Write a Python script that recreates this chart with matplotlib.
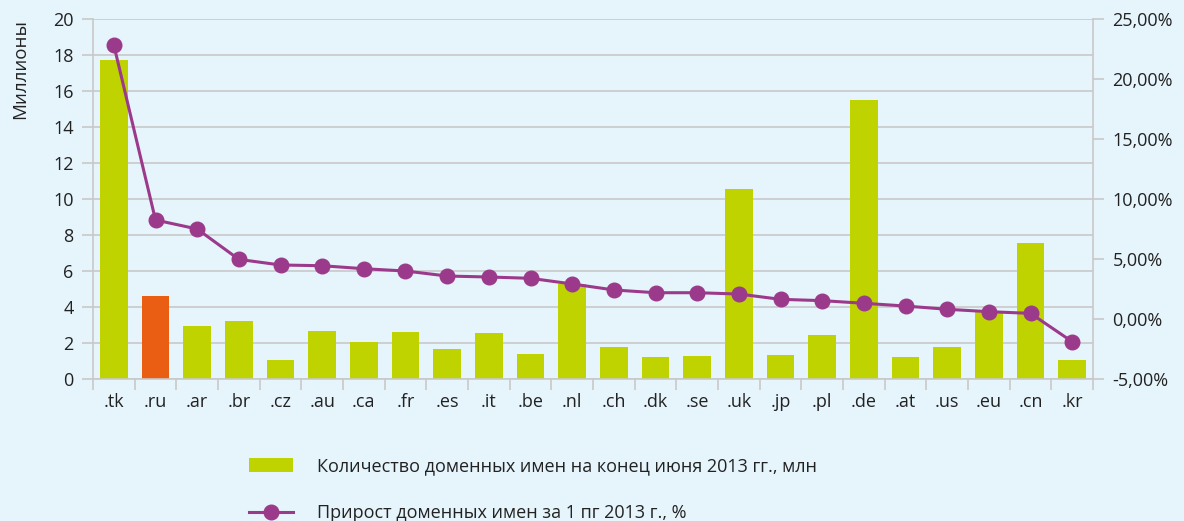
import matplotlib
matplotlib.use("Agg")
import matplotlib.pyplot as plt
from matplotlib.lines import Line2D
from matplotlib.patches import Patch
from matplotlib.ticker import FuncFormatter

zones = ['.tk', '.ru', '.ar', '.br', '.cz', '.au', '.ca', '.fr', '.es', '.it', '.be', '.nl',
         '.ch', '.dk', '.se', '.uk', '.jp', '.pl', '.de', '.at', '.us', '.eu', '.cn', '.kr']
domains_mln = [17.72, 4.61, 2.94, 3.22, 1.06, 2.67, 2.06, 2.63, 1.67, 2.57, 1.39, 5.30,
               1.80, 1.24, 1.28, 10.54, 1.33, 2.44, 15.50, 1.20, 1.78, 3.74, 7.54, 1.06]
growth_pct = [22.83, 8.25, 7.50, 4.97, 4.50, 4.44, 4.19, 4.00, 3.58, 3.50, 3.39, 2.92,
              2.42, 2.19, 2.19, 2.08, 1.64, 1.53, 1.31, 1.08, 0.81, 0.61, 0.47, -1.89]

bg = '#e6f4fc'
green = '#bfd300'
orange = '#ea5e14'
purple = '#9b3a8b'
grid = '#c8c8c8'
txt = '#222222'

plt.rcParams['font.family'] = ['Open Sans', 'DejaVu Sans']
plt.rcParams['font.size'] = 13

fig = plt.figure(figsize=(11.84, 5.21), dpi=100, facecolor=bg)
ax = fig.add_axes([93 / 1184, 1 - 379 / 521, 1000 / 1184, 360 / 521])
ax.set_facecolor(bg)

x = range(len(zones))
colors = [orange if z == '.ru' else green for z in zones]
ax.bar(x, domains_mln, width=0.67, color=colors, zorder=2)
ax.set_xlim(-0.5, len(zones) - 0.5)
ax.set_ylim(0, 20)
ax.set_yticks(range(0, 21, 2))
ax.grid(axis='y', color=grid, lw=1.2, zorder=0)
ax.set_axisbelow(True)

ax.set_xticks(list(x))
ax.set_xticklabels(zones, color=txt)
ax.set_xticks([i - 0.5 for i in range(len(zones) + 1)], minor=True)
ax.tick_params(axis='x', which='major', length=0, pad=10)
ax.tick_params(axis='x', which='minor', length=8, color=grid, width=1.2)
ax.tick_params(axis='y', length=8, color=grid, width=1.2, labelcolor=txt, pad=6)

for s in ['top', 'right']:
    ax.spines[s].set_visible(False)
for s in ['left', 'bottom']:
    ax.spines[s].set_color(grid)
    ax.spines[s].set_linewidth(1.2)

ax.set_ylabel('Миллионы', color=txt, fontsize=13.5)
ax.yaxis.set_label_coords(-0.064, 0.86)

ax2 = ax.twinx()
ax2.plot(x, growth_pct, color=purple, lw=2.2, marker='o', ms=10.5, zorder=3)
ax2.set_ylim(-5, 25)
ax2.set_yticks(range(-5, 26, 5))
ax2.yaxis.set_major_formatter(FuncFormatter(lambda v, p: f'{v:.2f}%'.replace('.', ',')))
ax2.tick_params(axis='y', length=8, color=grid, width=1.2, labelcolor=txt, pad=6)
for s in ['top', 'left', 'bottom']:
    ax2.spines[s].set_visible(False)
ax2.spines['right'].set_color(grid)
ax2.spines['right'].set_linewidth(1.2)

handles = [Patch(facecolor=green, edgecolor='none'),
           Line2D([0], [0], color=purple, lw=2.2, marker='o', ms=10.5)]
labels = ['Количество доменных имен на конец июня 2013 гг., млн',
          'Прирост доменных имен за 1 пг 2013 г., %']
leg = fig.legend(handles, labels, loc='upper left', bbox_to_anchor=(242 / 1184, 1 - 450 / 521),
                 frameon=False, handlelength=2.45, handleheight=0.8, handletextpad=1.3,
                 labelspacing=1.6, fontsize=13, borderaxespad=0)
for t in leg.get_texts():
    t.set_color(txt)

fig.savefig('out.png', dpi=100, facecolor=bg)
